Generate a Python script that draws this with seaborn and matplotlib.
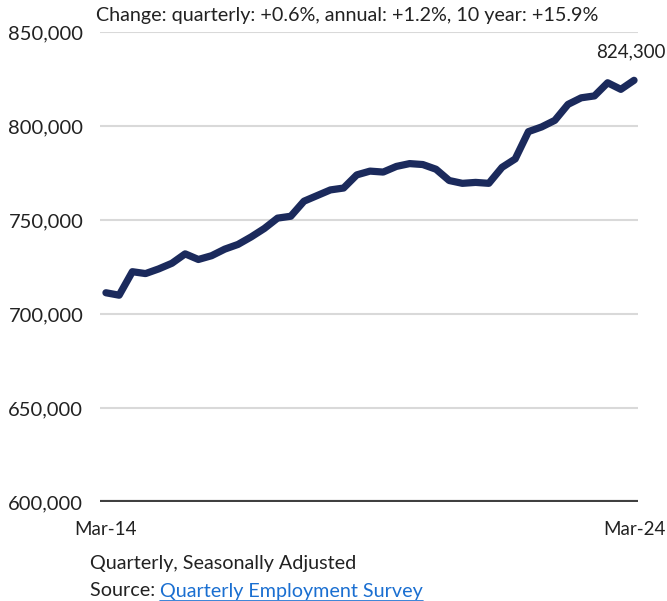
import seaborn as sns
import matplotlib.pyplot as plt
import pandas as pd

quarters = pd.period_range("2014Q1", "2024Q1", freq="Q")
quarter_labels = [q.strftime("Mar-%y") if q.quarter == 1 else q.strftime("%b-%y") for q in quarters]
filled_jobs = [711300, 710000, 722500, 721500, 724000, 727000, 732000, 729000, 731000, 734500,
               737000, 741000, 745500, 751000, 752000, 760000, 763000, 766000, 767000, 774000,
               776000, 775500, 778500, 780000, 779500, 777000, 771000, 769500, 770000, 769500,
               778000, 782500, 797000, 799500, 803000, 811500, 815000, 816000, 823000, 819500,
               824300]
yticks = [600000, 650000, 700000, 750000, 800000, 850000]
headline = "Change: quarterly: +0.6%, annual: +1.2%, 10 year: +15.9%"

df = pd.DataFrame({"i": range(len(filled_jobs)), "jobs": filled_jobs, "label": quarter_labels})

sns.set_style("white")
plt.rcParams["font.family"] = ["Lato", "DejaVu Sans"]

fig = plt.figure(figsize=(6.67, 6.01), dpi=100)
ax = fig.add_axes([100/667, 1 - 502/601, 538/667, 470/601])

for t in yticks[1:]:
    ax.axhline(t, color="#d9d9d9", lw=1.5, zorder=0)
ax.axhline(600000, color="#404040", lw=3, zorder=1)

sns.lineplot(data=df, x="i", y="jobs", color="#1b2a5c", lw=5.2, ax=ax,
             solid_capstyle="round", solid_joinstyle="round")

ax.set_ylim(600000, 850000)
ax.set_xlim(-0.45, len(filled_jobs) - 0.7)
ax.set_yticks(yticks)
ax.set_yticklabels([f"{v:,}" for v in yticks], fontsize=14.5, color="#222222")
ax.set_xticks([0, len(filled_jobs) - 1])
ax.set_xticklabels([quarter_labels[0], quarter_labels[-1]], fontsize=13.5, color="#222222")
ax.tick_params(axis="y", length=0, pad=12)
ax.tick_params(axis="x", length=0, pad=14)
ax.set_xlabel("")
ax.set_ylabel("")
for s in ax.spines.values():
    s.set_visible(False)

ax.annotate(f"{filled_jobs[-1]:,}", (df["i"].iloc[-1], filled_jobs[-1]),
            xytext=(-2, 14), textcoords="offset points", ha="center", va="bottom",
            fontsize=13.5, color="#222222")

fig.text(96/667, 1 - 15/601, headline, fontsize=14.2, color="#222222", va="center")
fig.text(90/667, 1 - 563/601, "Quarterly, Seasonally Adjusted", fontsize=14.2,
         color="#222222", va="center")
src = fig.text(90/667, 1 - 591/601, "Source: ", fontsize=14.2, color="#222222", va="center")
fig.canvas.draw()
bb = src.get_window_extent()
link = fig.text(bb.x1 / fig.bbox.width, 1 - 591/601, "Quarterly Employment Survey",
                fontsize=14.2, color="#1a6fd1", va="center")
lb = link.get_window_extent()
fig.add_artist(plt.Line2D([lb.x0 / fig.bbox.width, lb.x1 / fig.bbox.width],
                          [(lb.y0 - 1) / fig.bbox.height] * 2, color="#1a6fd1", lw=1.2))

fig.savefig("out.png", dpi=100)
